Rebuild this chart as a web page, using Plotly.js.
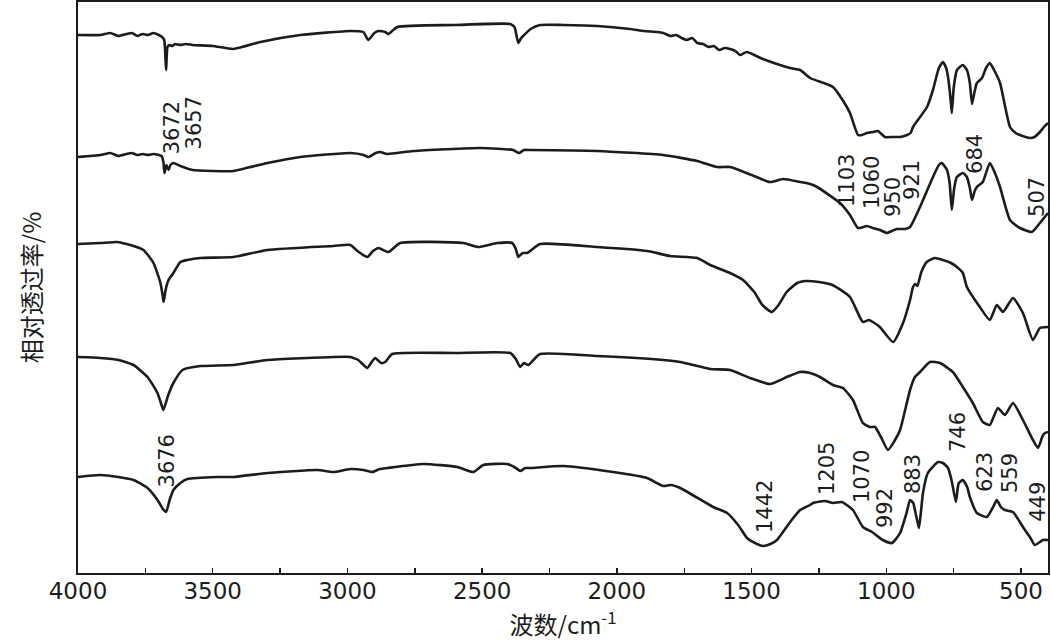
<!DOCTYPE html>
<html>
<head>
<meta charset="utf-8">
<script src="https://cdn.plot.ly/plotly-3.0.1.min.js"></script>
<style>html,body{margin:0;padding:0;background:#fff;}#chart{width:1051px;height:641px;}</style>
</head>
<body>
<div id="chart"></div>
<script>
// Wavenumber (cm-1) and relative transmittance (arbitrary, offset-stacked units) for the 5 spectra, top to bottom
const wn1 = [4000,3917,3880,3850,3820,3800,3780,3760,3740,3720,3700,3688,3680,3673,3668,3660,3650,3640,3620,3600,3575,3500,3423,3323,3175,2989,2941,2923,2900,2885,2860,2848,2815,2600,2396,2380,2366,2355,2348,2320,2285,2199,2073,1951,1900,1850,1828,1800,1780,1760,1740,1720,1702,1680,1660,1640,1620,1600,1580,1560,1543,1518,1458,1357,1320,1283,1198,1160,1135,1105,1090,1072,1050,1031,1005,975,949,923,910,901,849,827,805,790,778,771,762,757,750,738,716,701,690,682,672,664,645,630,616,600,578,541,520,504,467,450,430,415,400];
const t1  = [538,538,540,537,539,540,537,539,538,540,538,536,533,503,526,528,527,529,528,529,528,527,524,531,538,542,541,533,540,542,541,539,546,548,549,546,530,535,537,544,548,548,547,544,542,541,540,537,538,535,533,535,530,529,526,527,523,525,524,522,518,521,514,505,503,495,486,472,460,438,438,440,441,442,436,436,436,438,440,446,466,483,505,511,505,496,475,460,485,503,508,503,490,469,482,490,495,505,510,503,490,446,440,438,435,436,441,446,450];

const wn2 = [4000,3917,3880,3850,3820,3800,3780,3760,3740,3720,3700,3690,3683,3679,3672,3664,3657,3646,3620,3575,3500,3423,3297,3175,2989,2940,2923,2895,2878,2852,2756,2507,2385,2363,2345,2322,2073,1828,1702,1628,1580,1500,1432,1383,1320,1283,1257,1172,1135,1105,1072,1050,1024,998,980,961,930,912,875,827,805,794,775,765,757,748,738,716,701,690,682,672,664,642,616,600,578,541,504,460,430,400];
const t2  = [416,418,420,417,419,420,418,419,418,419,418,417,411,400,408,403,408,410,407,403,402,402,410,416,420,418,416,420,421,419,422,425,423,420,423,423,422,418,412,406,406,398,391,394,391,389,386,370,358,345,347,345,343,340,342,344,344,346,366,396,408,410,403,390,363,385,396,400,396,385,373,382,386,391,410,402,386,353,345,341,350,360];

const wn3 = [4000,3917,3854,3820,3794,3757,3720,3694,3685,3682,3675,3664,3646,3620,3594,3546,3423,3297,3052,2989,2963,2926,2905,2885,2848,2804,2570,2515,2444,2389,2375,2366,2350,2333,2285,2073,1888,1802,1702,1654,1580,1532,1490,1460,1425,1400,1370,1331,1300,1250,1200,1135,1087,1065,1050,1024,975,938,912,901,893,885,870,850,820,790,760,738,716,701,653,616,590,567,530,493,456,430,400];
const t3  = [329,330,331,329,327,323,310,290,276,271,283,293,300,311,313,315,316,323,327,328,322,316,322,325,321,330,330,326,330,330,324,316,320,320,329,326,322,317,315,308,300,293,281,268,261,268,281,290,292,291,288,276,251,253,251,246,231,250,273,286,289,287,301,311,315,313,310,306,300,286,266,253,268,261,275,260,233,245,246];

const wn4 = [4000,3917,3850,3794,3742,3705,3690,3683,3665,3646,3612,3546,3423,3297,3052,2989,2978,2960,2926,2910,2897,2875,2860,2834,2600,2396,2375,2359,2345,2329,2285,2073,1828,1765,1654,1580,1506,1432,1369,1320,1283,1246,1198,1161,1124,1087,1061,1042,1020,994,970,949,912,894,875,838,801,753,716,679,642,616,586,560,530,493,456,437,420,411,400];
const t4  = [216,215,213,208,196,180,168,163,178,190,203,207,208,213,216,216,215,213,205,211,215,210,211,219,220,220,214,206,210,208,219,217,213,211,204,203,195,189,196,201,200,196,188,185,173,150,146,146,136,123,132,143,183,196,201,211,210,201,186,170,151,148,165,158,170,153,133,125,137,140,141];

const wn5 = [4000,3917,3850,3794,3742,3705,3685,3673,3660,3646,3620,3594,3483,3423,3297,3112,3052,2989,2941,2908,2880,2852,2719,2592,2533,2496,2407,2375,2359,2340,2322,2199,2014,1888,1828,1800,1765,1643,1591,1550,1517,1480,1458,1430,1406,1357,1320,1283,1272,1228,1198,1165,1124,1087,1053,1013,979,949,925,912,900,894,885,879,872,864,846,808,790,771,760,753,742,735,731,716,700,690,664,627,600,590,575,560,530,493,465,449,430,419,400];
const t5  = [96,98,96,93,85,73,64,61,73,83,90,94,96,96,100,103,101,104,103,101,104,105,109,106,101,108,109,105,102,105,105,107,101,95,87,88,85,66,60,48,35,29,27,29,33,51,63,68,70,72,70,71,63,46,41,33,30,40,60,73,70,63,52,45,60,80,100,111,110,105,95,86,71,85,90,93,86,76,60,56,68,73,66,63,61,46,35,28,31,33,33];

// Peak labels
const peakLabels = ['3672','3657','3676','1103','1060','950','921','684','507','1442','1205','1070','992','883','746','623','559','449'];

const ink = '#1c1c1c';
const series = [[wn1,t1],[wn2,t2],[wn3,t3],[wn4,t4],[wn5,t5]];
const traces = series.map(([x,y]) => ({
  x: x, y: y, type: 'scatter', mode: 'lines',
  line: {color: ink, width: 2.6, shape: 'spline', smoothing: 0.5},
  hoverinfo: 'skip', showlegend: false
}));

// label placement (layout only)
const labelPos = [
  [3650,445],[3568,450],[3668,112],[1146,393],[1053,390],[975,376],[905,393],[671,419],[441,376],
  [1450,66],[1220,104],[1090,96],[1005,65],[901,99],[734,141],[634,101],[541,100],[438,71]
];
const annotations = peakLabels.map((txt,i) => ({
  x: labelPos[i][0], y: labelPos[i][1], xref: 'x', yref: 'y', text: txt,
  textangle: -90, showarrow: false, xanchor: 'center', yanchor: 'middle',
  font: {family: 'DejaVu Sans, Arial, sans-serif', size: 21, color: ink}
}));

const majorTicks = [4000,3500,3000,2500,2000,1500,1000,500];
const minorTicks = [3750,3250,2750,2250,1750,1250,750];

const layout = {
  width: 1051, height: 641,
  margin: {l: 78, r: 3, t: 2, b: 68},
  paper_bgcolor: '#fff', plot_bgcolor: '#fff',
  showlegend: false,
  xaxis: {
    range: [4000, 400], tickmode: 'array', tickvals: majorTicks, ticktext: majorTicks.map(String),
    ticks: 'inside', ticklen: 5, tickwidth: 1.5, tickcolor: ink,
    minor: {tickmode: 'array', tickvals: minorTicks, ticks: 'inside', ticklen: 5, tickwidth: 1.5, tickcolor: ink},
    showline: true, linecolor: ink, linewidth: 2.2, mirror: true,
    showgrid: false, zeroline: false, ticklabelstandoff: -4,
    tickfont: {family: 'DejaVu Sans, Arial, sans-serif', size: 23, color: ink},
    title: {text: '波数/cm<sup>-1</sup>', font: {family: 'Noto Sans CJK SC, sans-serif', size: 24, color: ink}, standoff: 16}
  },
  yaxis: {
    range: [0, 571], showticklabels: false, ticks: '',
    showline: true, linecolor: ink, linewidth: 2.2, mirror: true,
    showgrid: false, zeroline: false,
    title: {text: '相对透过率/%', font: {family: 'Noto Sans CJK SC, sans-serif', size: 24, color: ink}, standoff: 28}
  },
  annotations: annotations
};

Plotly.newPlot('chart', traces, layout, {displayModeBar: false, staticPlot: true});
</script>
</body>
</html>
